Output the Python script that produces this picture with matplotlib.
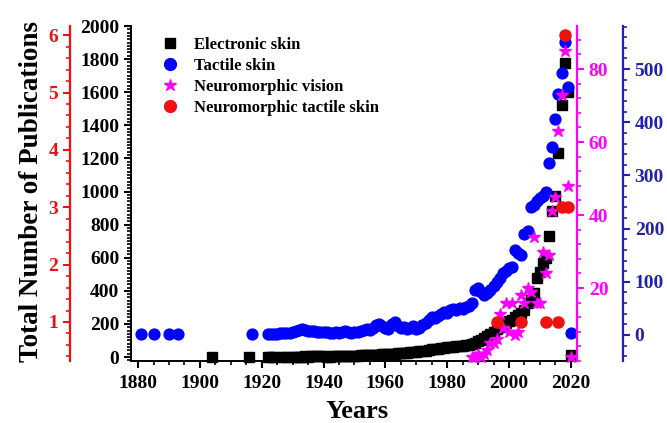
import matplotlib
matplotlib.use("Agg")
import matplotlib.pyplot as plt
from matplotlib.ticker import MultipleLocator
from matplotlib.lines import Line2D

plt.rcParams["font.family"] = ["Liberation Serif", "DejaVu Serif"]
plt.rcParams["font.weight"] = "bold"

# Electronic skin (left black axis)
eskin_years = [1904, 1916, 1922, 1923, 1924, 1927, 1928] + list(range(1930, 2021))
eskin_vals = [1, 1, 1, 1, 1, 1, 1,
              2, 3, 2, 3, 4, 3, 4, 5, 4, 5,
              4, 3, 3, 4, 4, 5, 6, 6, 7, 8,
              8, 9, 10, 10, 11, 12, 13, 14, 15, 16,
              17, 18, 19, 20, 22, 23, 25, 27, 28, 30,
              32, 34, 36, 38, 42, 46, 48, 50, 52, 55,
              58, 60, 62, 64, 66, 68, 70, 72, 76, 82,
              95, 105, 115, 125, 140, 152, 168, 180, 192, 205,
              215, 225, 240, 255, 268, 285, 325, 345, 385, 475,
              515, 570, 600, 730, 880, 975, 1230, 1520, 1775, 1600, 15]

# Tactile skin (outer right blue axis)
tactile_years = [1881, 1885, 1890, 1893, 1917] + list(range(1922, 2021))
tactile_vals = [1, 1, 1, 1, 1,
                1, 1, 2, 2, 3, 3, 4, 4,
                6, 7, 10, 12, 9, 8, 7, 8, 6, 5,
                6, 5, 4, 4, 5, 3, 5, 7, 5, 4,
                6, 5, 7, 9, 12, 10, 14, 18, 20, 16,
                14, 12, 20, 24, 17, 13, 15, 12, 13, 16,
                12, 14, 18, 22, 28, 34, 32, 36, 40, 44,
                42, 46, 48, 46, 50, 48, 52, 55, 60, 85,
                88, 80, 76, 78, 85, 92, 100, 108, 116, 120,
                125, 128, 160, 155, 150, 190, 196, 240, 245, 252,
                258, 262, 268, 323, 353, 406, 453, 492, 551, 467, 3]

# Neuromorphic vision (right magenta axis)
nvision_years = list(range(1988, 2021))
nvision_vals = [1, 1, 2, 1, 2, 3, 5, 5, 6, 13, 9, 16, 8, 16, 7, 8, 18,
                16, 20, 19, 34, 16, 16, 30, 24, 29, 41, 45, 63, 73, 85, 48, 1]

# Neuromorphic tactile skin (outer left red axis)
ntactile_years = [1996, 2004, 2012, 2016, 2017, 2018, 2019]
ntactile_vals = [1, 1, 1, 1, 3, 6, 3]

labels = ["Electronic skin", "Tactile skin", "Neuromorphic vision",
          "Neuromorphic tactile skin"]

c_red = "#ee1111"
c_mag = "#ff00ff"
c_blue_pt = "#0000ff"
c_blue_ax = "#2222aa"

fig = plt.figure(figsize=(6.67, 4.23), dpi=100)
ax = fig.add_axes([131 / 667, 1 - 361 / 423, (577 - 131) / 667, (361 - 26) / 423])


def style_axis(a, color, side):
    for s in ["top", "bottom", "left", "right"]:
        a.spines[s].set_visible(False)
    a.spines[side].set_visible(True)
    a.spines[side].set_color(color)
    a.spines[side].set_linewidth(1.6)
    a.tick_params(axis="y", which="major", colors=color, length=5, width=1.5,
                  labelsize=14, direction="out")
    a.tick_params(axis="y", which="minor", colors=color, length=3, width=1.2,
                  direction="out")
    for t in a.get_yticklabels():
        t.set_fontweight("bold")


# main black axis
ax.plot(eskin_years, eskin_vals, "s", color="black", ms=6.5, clip_on=False, zorder=3)
ax.set_xlim(1877.7, 2022)
ax.set_ylim(-24, 2000)
ax.spines["top"].set_visible(False)
ax.spines["right"].set_visible(False)
for s in ["left", "bottom"]:
    ax.spines[s].set_linewidth(1.4)
ax.xaxis.set_major_locator(MultipleLocator(20))
ax.xaxis.set_minor_locator(MultipleLocator(5))
ax.yaxis.set_major_locator(MultipleLocator(200))
ax.yaxis.set_minor_locator(MultipleLocator(20))
ax.tick_params(which="major", length=5, width=1.5, labelsize=14, direction="out")
ax.tick_params(which="minor", length=3, width=1.2, direction="out")
ax.tick_params(axis="x", pad=5)

# blue axis
axb = ax.twinx()
axb.plot(tactile_years, tactile_vals, "o", color=c_blue_pt, ms=7.8, clip_on=False)
axb.set_ylim(-49, 581)
axb.spines["right"].set_position(("outward", 33))
axb.yaxis.set_major_locator(MultipleLocator(100))
axb.yaxis.set_minor_locator(MultipleLocator(20))
style_axis(axb, c_blue_ax, "right")

# magenta axis
axm = ax.twinx()
axm.plot(nvision_years, nvision_vals, "*", color=c_mag, ms=9, clip_on=False)
axm.set_ylim(0, 91.8)
axm.yaxis.set_minor_locator(MultipleLocator(4))
axm.set_yticks([20, 40, 60, 80])
style_axis(axm, c_mag, "right")

# red axis
axr = ax.twinx()
axr.plot(ntactile_years, ntactile_vals, "o", color=c_red, ms=8, clip_on=False)
axr.set_ylim(0.32, 6.16)
axr.yaxis.tick_left()
axr.spines["left"].set_position(("outward", 44))
axr.set_yticks([1, 2, 3, 4, 5, 6])
axr.yaxis.set_minor_locator(MultipleLocator(0.2))
style_axis(axr, c_red, "left")

fig.text(32 / 667, 1 - 191 / 423, "Total Number of Publications", rotation=90,
         ha="center", va="center", fontsize=19.5, fontweight="bold")
fig.text(357 / 667, 1 - 411 / 423, "Years", ha="center", va="center",
         fontsize=19, fontweight="bold")

handles = [
    Line2D([], [], ls="none", marker="s", color="black", ms=7),
    Line2D([], [], ls="none", marker="o", color=c_blue_pt, ms=8.5),
    Line2D([], [], ls="none", marker="*", color=c_mag, ms=9),
    Line2D([], [], ls="none", marker="o", color=c_red, ms=8.5),
]
fig.legend(handles, labels, loc="upper left", bbox_to_anchor=(160 / 667, 1 - 37 / 423),
           frameon=False, handlelength=1.2, handletextpad=0.85, labelspacing=0.3,
           borderaxespad=0, borderpad=0, prop={"weight": "bold", "size": 12})

fig.savefig("out.png", dpi=100)
